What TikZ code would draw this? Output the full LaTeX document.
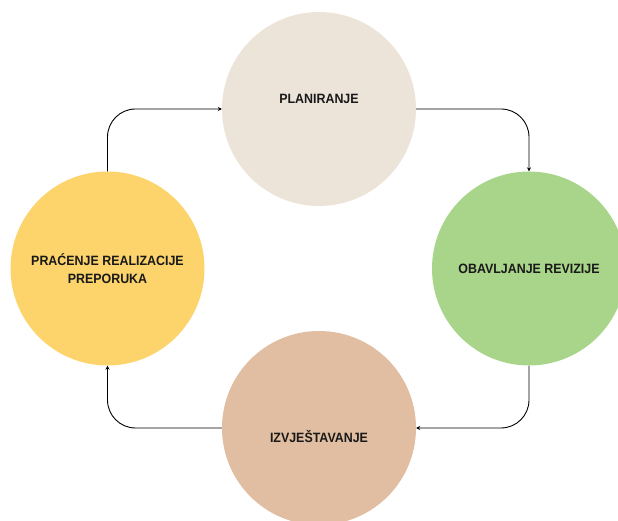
\documentclass[tikz,border=0pt]{standalone}
\usepackage{fontspec}
\setmainfont{Liberation Sans}
\newfontfamily\fazafont[FakeStretch=0.92]{Liberation Sans}
\usetikzlibrary{arrows.meta}
\definecolor{planc}{HTML}{ECE4D9}
\definecolor{pracc}{HTML}{FCD46B}
\definecolor{obavc}{HTML}{A9D58B}
\definecolor{izvjc}{HTML}{E1BEA1}
\tikzset{
    faza/.style={circle, minimum size=194pt, inner sep=0pt},
    natpis/.style={font=\fazafont\bfseries\fontsize{13.5}{18}\selectfont, align=center, text=black!90},
    tok/.style={line width=0.9pt, rounded corners=28pt, -{Stealth[length=4pt,width=4pt]}}
}
\begin{document}
\begin{tikzpicture}[x=1pt, y=1pt]
    \pgfmathsetmacro{\r}{97};
    \pgfmathsetmacro{\cx}{319};
    \useasboundingbox (0,0) rectangle (618,521);
    \clip (0,0) rectangle (618,521);
    \node[faza, fill=planc] (plan) at (\cx,412) {};
    \node[faza, fill=pracc] (prac) at (107.5,252.5) {};
    \node[faza, fill=obavc] (obav) at (529,252.5) {};
    \node[faza, fill=izvjc] (izvj) at (\cx,93) {};
    \node[natpis] (planT) at ([yshift=10pt]plan.center) {PLANIRANJE};
    \node[natpis] (pracT) at (prac.center) {PRAĆENJE REALIZACIJE\\PREPORUKA};
    \node[natpis] (obavT) at (obav.center) {OBAVLJANJE REVIZIJE};
    \node[natpis] (izvjT) at ([yshift=-9pt]izvj.center) {IZVJEŠTAVANJE};
    \draw[tok] (plan.east) -| (obav.north);
    \draw[tok] (obav.south) |- (izvj.east);
    \draw[tok] (izvj.west) -| (prac.south);
    \draw[tok] (prac.north) |- (plan.west);
\end{tikzpicture}
\end{document}
